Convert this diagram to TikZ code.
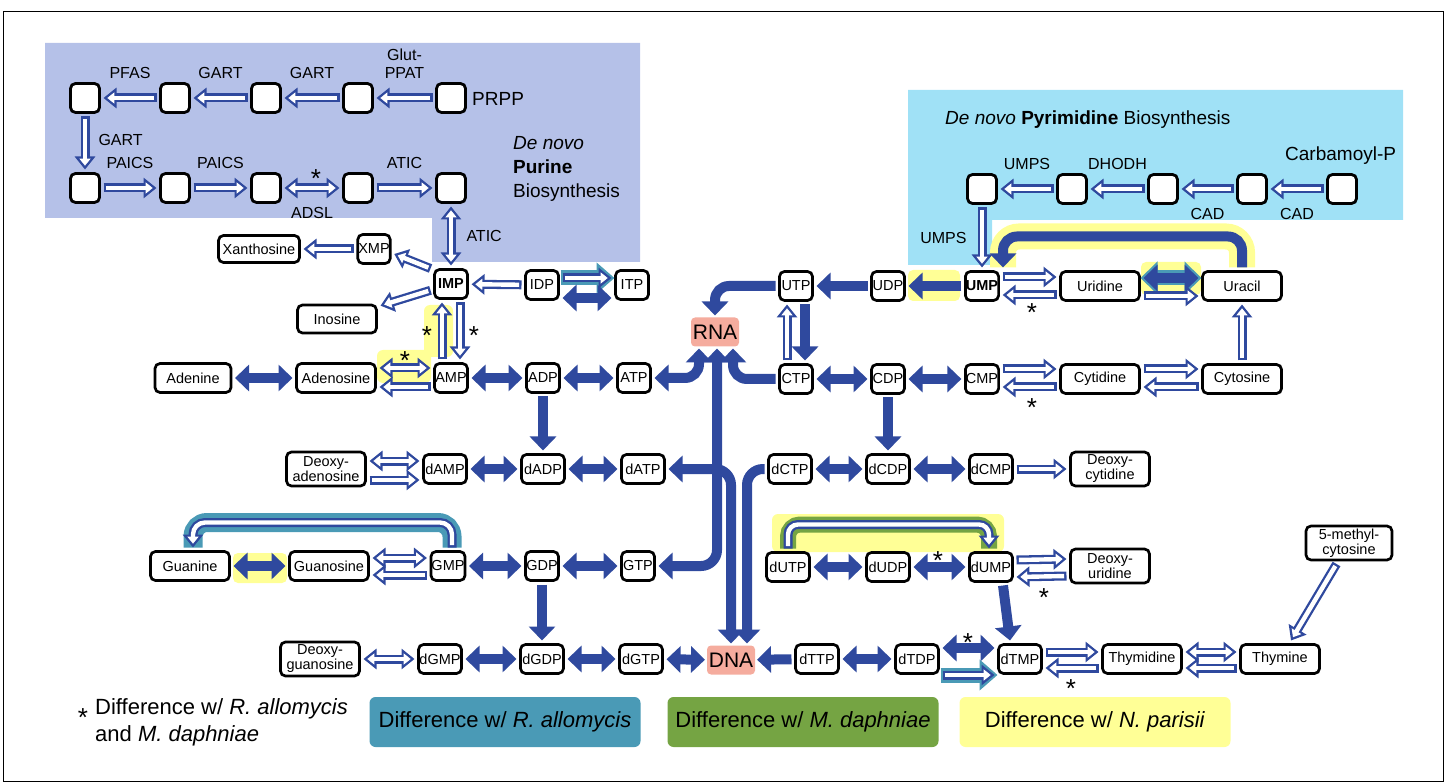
\documentclass[tikz,border=0pt]{standalone}
\usepackage{fontspec}
\setmainfont{Liberation Sans}
\usetikzlibrary{arrows.meta,positioning,calc,backgrounds}

\definecolor{pblue}{RGB}{47,73,158}
\definecolor{purbg}{RGB}{181,193,232}
\definecolor{pyrbg}{RGB}{160,225,246}
\definecolor{hlyel}{RGB}{255,255,150}
\definecolor{hlteal}{RGB}{74,154,182}
\definecolor{hlgreen}{RGB}{117,164,67}
\definecolor{nucl}{RGB}{245,172,158}

\tikzset{
  box/.style={draw, line width=2.7pt, rounded corners=5pt, fill=white, inner sep=0.5pt,
    outer sep=4pt, minimum height=29pt, font=\fontsize{14.5}{15}\selectfont},
  nt/.style={box, minimum width=33pt},
  dnt/.style={box, minimum width=43pt},
  base/.style={box, minimum width=79pt},
  twoline/.style={box, minimum width=79pt, minimum height=34pt, align=center},
  sq/.style={draw, line width=2.8pt, rounded corners=5pt, fill=white, minimum size=29pt, outer sep=4pt},
  acid/.style={fill=nucl, rounded corners=4pt, minimum width=48pt, minimum height=29pt,
    inner sep=1pt, outer sep=2pt, font=\fontsize{21}{21}\selectfont},
  enz/.style={font=\fontsize{16}{18}\selectfont, align=center, inner sep=1pt},
  title/.style={font=\fontsize{19}{24}\selectfont, align=left, inner sep=0pt},
  star/.style={font=\fontsize{26}{26}\selectfont, inner sep=0pt, yshift=-5.6pt},
  legend/.style={rounded corners=6pt, minimum width=271pt, minimum height=50pt,
    font=\fontsize{22}{26}\selectfont},
  full/.style={draw=pblue, line width=10pt, -{Triangle[length=14pt,width=26pt]}},
  fullb/.style={draw=pblue, line width=10pt,
    {Triangle[length=14pt,width=26pt]}-{Triangle[length=14pt,width=26pt]}},
  hol/.style={draw=pblue, line width=9pt, -{Triangle[length=13pt,width=20pt]},
    postaction={draw=white, line width=4.4pt, shorten >=3.8pt, shorten <=2.3pt,
      -{Triangle[length=7pt,width=10.8pt]}}},
  holb/.style={draw=pblue, line width=9pt,
    {Triangle[length=13pt,width=20pt]}-{Triangle[length=13pt,width=20pt]},
    postaction={draw=white, line width=4.4pt, shorten >=3.8pt, shorten <=3.8pt,
      {Triangle[length=7pt,width=10.8pt]}-{Triangle[length=7pt,width=10.8pt]}}},
  halo/.style={preaction={draw=#1, line width=15pt, -{Triangle[length=18pt,width=30pt]},
    shorten >=-3pt, shorten <=-2pt}},
  halob/.style={preaction={draw=#1, line width=15pt,
    {Triangle[length=17pt,width=32pt]}-{Triangle[length=17pt,width=32pt]},
    shorten >=-3pt, shorten <=-3pt}},
}

\begin{document}
\begin{tikzpicture}[x=1pt, y=-1pt]
\useasboundingbox (0,0) rectangle (1446,783);
\draw[line width=1pt] (3,12) rectangle (1443,781);

% de novo purine boxes
\node[sq] (pa1) at (85,98) {};
\node[sq] (pa2) at (175,98) {};
\node[sq] (pa3) at (266,98) {};
\node[sq] (pa4) at (358,98) {};
\node[sq] (pa5) at (451,98) {};
\node[sq] (pb1) at (85,188) {};
\node[sq] (pb2) at (175,188) {};
\node[sq] (pb3) at (266,188) {};
\node[sq] (pb4) at (358,188) {};
\node[sq] (pb5) at (451,188) {};
\node[title, anchor=west] (prpp) at (472,99) {PRPP};
\node[title, anchor=west] (purt) at (513,169) {\textit{De novo}\\\textbf{Purine}\\Biosynthesis};

% de novo pyrimidine boxes
\node[sq] (qa1) at (982,189) {};
\node[sq] (qa2) at (1072,189) {};
\node[sq] (qa3) at (1163,189) {};
\node[sq] (qa4) at (1252,189) {};
\node[sq] (qa5) at (1342,189) {};
\node[title, anchor=west] (carb) at (1285,156) {Carbamoyl-P};
\node[title, anchor=west] (pyrt) at (945,120) {\textit{De novo} \textbf{Pyrimidine} Biosynthesis};

% purines
\node[nt] (IMP) at (451,284) {\textbf{IMP}};
\node[nt, minimum width=31pt] (XMP) at (374,249) {XMP};
\node[base, minimum width=81pt, minimum height=27pt] (Xanthosine) at (259,249) {Xanthosine};
\node[base, minimum height=28pt] (Inosine) at (337,319) {Inosine};
\node[nt] (IDP) at (542,285) {IDP};
\node[nt] (ITP) at (632,285) {ITP};
\node[base, minimum width=76pt] (Adenine) at (193,378) {Adenine};
\node[base] (Adenosine) at (336,378) {Adenosine};
\node[nt] (AMP) at (451,378) {AMP};
\node[nt] (ADP) at (543,378) {ADP};
\node[nt] (ATP) at (634,378) {ATP};
\node[twoline] (Deoxyadenosine) at (326,469) {Deoxy-\\adenosine};
\node[dnt] (dAMP) at (445,469) {dAMP};
\node[dnt] (dADP) at (543,469) {dADP};
\node[dnt] (dATP) at (643,469) {dATP};
\node[base] (Guanine) at (190,566) {Guanine};
\node[base] (Guanosine) at (329,566) {Guanosine};
\node[nt] (GMP) at (448,566) {GMP};
\node[nt] (GDP) at (542,566) {GDP};
\node[nt] (GTP) at (638,566) {GTP};
\node[twoline] (Deoxyguanosine) at (320,659) {Deoxy-\\guanosine};
\node[dnt] (dGMP) at (440,659) {dGMP};
\node[dnt] (dGDP) at (542,659) {dGDP};
\node[dnt] (dGTP) at (641,659) {dGTP};
\node[acid] (RNA) at (715,332) {RNA};
\node[acid] (DNA) at (731,660) {DNA};

% pyrimidines
\node[nt] (UTP) at (796,286) {UTP};
\node[nt] (UDP) at (888,286) {UDP};
\node[nt] (UMP) at (982,286) {\textbf{UMP}};
\node[base] (Uridine) at (1100,286) {Uridine};
\node[base] (Uracil) at (1242,286) {Uracil};
\node[nt] (CTP) at (796,379) {CTP};
\node[nt] (CDP) at (888,379) {CDP};
\node[nt] (CMP) at (982,379) {CMP};
\node[base] (Cytidine) at (1100,379) {Cytidine};
\node[base] (Cytosine) at (1242,379) {Cytosine};
\node[dnt] (dCTP) at (790,469) {dCTP};
\node[dnt] (dCDP) at (888,469) {dCDP};
\node[dnt] (dCMP) at (991,469) {dCMP};
\node[twoline] (Deoxycytidine) at (1110,469) {Deoxy-\\cytidine};
\node[dnt] (dUTP) at (788,567) {dUTP};
\node[dnt] (dUDP) at (888,567) {dUDP};
\node[dnt] (dUMP) at (991,567) {dUMP};
\node[twoline] (Deoxyuridine) at (1110,566) {Deoxy-\\uridine};
\node[dnt] (dTTP) at (817,659) {dTTP};
\node[dnt] (dTDP) at (917,659) {dTDP};
\node[dnt] (dTMP) at (1020,659) {dTMP};
\node[base] (Thymidine) at (1142,659) {Thymidine};
\node[base] (Thymine) at (1280,659) {Thymine};
\node[twoline, minimum width=86pt] (Methylcytosine) at (1349,543) {5-methyl-\\cytosine};

\begin{scope}[on background layer]
  % pathway panels
  \fill[purbg] (45,43) -- (640,43) -- (640,262) -- (432,262) -- (432,218) -- (45,218) -- cycle;
  \fill[pyrbg] (908,90) -- (1403,90) -- (1403,220) -- (992,220) -- (992,265) -- (908,265) -- cycle;
  % highlights
  \fill[hlyel, rounded corners=6pt] (424,305) rectangle (453,357);
  \fill[hlyel, rounded corners=6pt] (377,350) rectangle (431,383);
  \fill[hlyel, rounded corners=5pt] (908,270) rectangle (960,301);
  \fill[hlyel, rounded corners=5pt] (1141,262) rectangle (1201,295);
  \fill[hlyel, rounded corners=5pt] (233,553) rectangle (287,583);
  \fill[hlyel, rounded corners=6pt] (772,514) rectangle (1004,552);
  \draw[hlyel, line width=26pt, rounded corners=16pt] (Uracil.north) -- ++(0,-31) -| ([xshift=21pt]UMP.north);
  \draw[hlteal, line width=19pt, rounded corners=14pt] ([xshift=4pt]GMP.north) -- ++(0,-25) -| ([xshift=3pt]Guanine.north);
  \draw[hlgreen, line width=16pt, rounded corners=12pt] (dUTP.north) -- ++(0,-24) -| ([xshift=-2pt]dUMP.north);
\end{scope}

% de novo purine
\draw[hol] (pa5) -- node[enz, above=14pt] (e1) {Glut-\\PPAT} (pa4);
\draw[hol] (pa4) -- node[enz, above=14pt] (e2) {GART} (pa3);
\draw[hol] (pa3) -- node[enz, above=14pt] (e3) {GART} (pa2);
\draw[hol] (pa2) -- node[enz, above=14pt] (e4) {PFAS} (pa1);
\draw[hol] (pa1) -- node[enz, right=8pt, yshift=3pt] (e5) {GART} (pb1);
\draw[hol] (pb1) -- node[enz, above=14pt] (e6) {PAICS} (pb2);
\draw[hol] (pb2) -- node[enz, above=14pt] (e7) {PAICS} (pb3);
\draw[holb] (pb3) -- node[enz, below=14pt] (e8) {ADSL} (pb4);
\draw[hol] (pb4) -- node[enz, above=14pt] (e9) {ATIC} (pb5);
\draw[holb] (pb5) -- node[enz, right=10pt] (e10) {ATIC} (IMP);

% de novo pyrimidine
\draw[hol] (qa5) -- node[enz, below=14pt] (f1) {CAD} (qa4);
\draw[hol] (qa4) -- node[enz, below=14pt] (f2) {CAD} (qa3);
\draw[hol] (qa3) -- node[enz, above=14pt] (f3) {DHODH} (qa2);
\draw[hol] (qa2) -- node[enz, above=14pt] (f4) {UMPS} (qa1);
\draw[hol] (qa1) -- node[enz, left=10pt] (f5) {UMPS} (UMP);

% IMP branch
\draw[hol] ([yshift=-3pt]IMP.north west) -- ([yshift=-5pt]XMP.east);
\draw[hol] (XMP) -- (Xanthosine);
\draw[hol] (IMP) -- (Inosine);
\draw[hol] (IDP) -- (IMP);
\draw[hol, halo=hlteal] ([yshift=7pt]IDP.east) -- ([yshift=7pt]ITP.west);
\draw[fullb] ([yshift=-13pt]IDP.east) -- ([yshift=-13pt]ITP.west);
\draw[hol] ([xshift=-9pt]AMP.north) -- ([xshift=-9pt]IMP.south);
\draw[hol] ([xshift=9pt]IMP.south) -- ([xshift=9pt]AMP.north);

% adenine row
\draw[fullb] (Adenine) -- (Adenosine);
\draw[holb] ([yshift=10pt]Adenosine.east) -- ([yshift=10pt]AMP.west);
\draw[hol] ([yshift=-9pt]AMP.west) -- ([yshift=-9pt]Adenosine.east);
\draw[fullb] (AMP) -- (ADP);
\draw[fullb] (ADP) -- (ATP);
\draw[full] (ADP) -- (dADP);
\draw[holb] ([yshift=8pt]Deoxyadenosine.east) -- ([yshift=8pt]dAMP.west);
\draw[hol] ([yshift=-11pt]Deoxyadenosine.east) -- ([yshift=-11pt]dAMP.west);
\draw[fullb] (dAMP) -- (dADP);
\draw[fullb] (dADP) -- (dATP);

% guanine row
\draw[hol, rounded corners=12pt] ([xshift=4pt]GMP.north) -- ++(0,-25) -| ([xshift=3pt]Guanine.north);
\draw[fullb] (Guanine) -- (Guanosine);
\draw[holb] ([yshift=8pt]Guanosine.east) -- ([yshift=8pt]GMP.west);
\draw[hol] ([yshift=-9pt]GMP.west) -- ([yshift=-9pt]Guanosine.east);
\draw[fullb] (GMP) -- (GDP);
\draw[fullb] (GDP) -- (GTP);
\draw[full] (GDP) -- (dGDP);
\draw[holb] (Deoxyguanosine) -- (dGMP);
\draw[fullb] (dGMP) -- (dGDP);
\draw[fullb] (dGDP) -- (dGTP);
\draw[fullb] (dGTP) -- (DNA);

% to RNA and DNA
\draw[fullb, rounded corners=16pt] ([xshift=2pt]RNA.south) |- (GTP.east);
\draw[fullb, rounded corners=16pt] (dATP.east) -| (DNA.north);
\draw[full, rounded corners=16pt] (dCTP.west) -| ([xshift=16pt]DNA.north);
\draw[fullb, rounded corners=14pt] (ATP.east) -| ([xshift=-16pt]RNA.south);
\draw[full, rounded corners=14pt] (CTP.west) -| ([xshift=18pt]RNA.south);
\draw[full, rounded corners=14pt] (UTP.west) -| (RNA.north);
\draw[full] (dTTP) -- (DNA);

% uracil row
\draw[hol] ([xshift=-9pt]CTP.north) -- ([xshift=-9pt]UTP.south);
\draw[full] ([xshift=9pt]UTP.south) -- ([xshift=9pt]CTP.north);
\draw[full] (UDP) -- (UTP);
\draw[full] (UMP) -- (UDP);
\draw[hol] ([yshift=9pt]UMP.east) -- ([yshift=9pt]Uridine.west);
\draw[hol] ([yshift=-9pt]Uridine.west) -- ([yshift=-9pt]UMP.east);
\draw[fullb, halob=hlteal] ([yshift=8pt]Uridine.east) -- ([yshift=8pt]Uracil.west);
\draw[hol] ([yshift=-10pt]Uridine.east) -- ([yshift=-10pt]Uracil.west);
\draw[full, rounded corners=14pt] (Uracil.north) -- ++(0,-31) -| ([xshift=21pt]UMP.north);
\draw[hol] (Cytosine) -- (Uracil);

% cytosine row
\draw[fullb] (CTP) -- (CDP);
\draw[fullb] (CDP) -- (CMP);
\draw[hol] ([yshift=10pt]CMP.east) -- ([yshift=10pt]Cytidine.west);
\draw[hol] ([yshift=-8pt]Cytidine.west) -- ([yshift=-8pt]CMP.east);
\draw[hol] ([yshift=10pt]Cytidine.east) -- ([yshift=10pt]Cytosine.west);
\draw[hol] ([yshift=-8pt]Cytosine.west) -- ([yshift=-8pt]Cytidine.east);
\draw[full] (CDP) -- (dCDP);
\draw[fullb] (dCTP) -- (dCDP);
\draw[fullb] (dCDP) -- (dCMP);
\draw[hol] (dCMP) -- (Deoxycytidine);

% deoxyuridine row
\draw[hol, rounded corners=10pt] (dUTP.north) -- ++(0,-24) -| ([xshift=-2pt]dUMP.north);
\draw[fullb] (dUTP) -- (dUDP);
\draw[fullb] (dUDP) -- (dUMP);
\draw[hol] ([yshift=7pt]dUMP.east) -- ([yshift=7pt]Deoxyuridine.west);
\draw[hol] ([yshift=-10pt]Deoxyuridine.west) -- ([yshift=-10pt]dUMP.east);
\draw[full] ([xshift=12pt]dUMP.south) -- ([xshift=-10pt]dTMP.north);

% thymine row
\draw[fullb] (dTTP) -- (dTDP);
\draw[fullb] ([yshift=11pt]dTDP.east) -- ([yshift=11pt]dTMP.west);
\draw[hol, halo=hlteal] ([yshift=-16pt]dTDP.east) -- ([yshift=-16pt]dTMP.west);
\draw[hol] ([yshift=7pt]dTMP.east) -- ([yshift=7pt]Thymidine.west);
\draw[hol] ([yshift=-9pt]Thymidine.west) -- ([yshift=-9pt]dTMP.east);
\draw[holb] ([yshift=7pt]Thymidine.east) -- ([yshift=7pt]Thymine.west);
\draw[hol] ([yshift=-9pt]Thymine.west) -- ([yshift=-9pt]Thymidine.east);
\draw[hol] (Methylcytosine) -- (Thymine);

% asterisks
\node[star] (s1) at (316,173) {*};
\node[star] (s2) at (427,330) {*};
\node[star] (s3) at (474,330) {*};
\node[star] (s4) at (405,355) {*};
\node[star] (s5) at (1032,307) {*};
\node[star] (s6) at (1032,402) {*};
\node[star] (s7) at (938,555) {*};
\node[star] (s8) at (1044,592) {*};
\node[star] (s9) at (968,637) {*};
\node[star] (s10) at (1071,683) {*};

% legend
\node[star] (ls) at (83,712) {*};
\node[anchor=west, align=left, inner sep=0pt, font=\fontsize{22}{27}\selectfont] (lt) at (95,722)
  {Difference w/ \textit{R. allomycis}\\and \textit{M. daphniae}};
\node[legend, fill=hlteal] (l1) at (505,722) {Difference w/ \textit{R. allomycis}};
\node[legend, fill=hlgreen] (l2) at (803,722) {Difference w/ \textit{M. daphniae}};
\node[legend, fill=hlyel] (l3) at (1095,722) {Difference w/ \textit{N. parisii}};
\end{tikzpicture}
\end{document}
